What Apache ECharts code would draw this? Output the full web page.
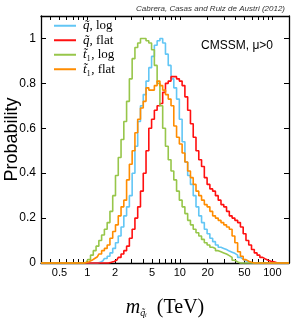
<!DOCTYPE html>
<html>
<head>
<meta charset="utf-8">
<script src="https://cdn.jsdelivr.net/npm/echarts@6/dist/echarts.min.js"></script>
<style>
html,body{margin:0;padding:0;background:#fff;}
#chart{width:291px;height:319px;}
</style>
</head>
<body>
<div id="chart"></div>
<script>
// bin centres, log10(m / TeV)
const log10Mass = [-0.10,-0.07,-0.04,-0.01,0.02,0.05,0.08,0.11,0.14,0.17,
  0.20,0.23,0.26,0.29,0.32,0.35,0.38,0.41,0.44,0.47,
  0.50,0.53,0.56,0.59,0.62,0.65,0.68,0.71,0.74,0.77,
  0.80,0.83,0.86,0.89,0.92,0.95,0.98,1.01,1.04,1.07,
  1.10,1.13,1.16,1.19,1.22,1.25,1.28,1.31,1.34,1.37,
  1.40,1.43,1.46,1.49,1.52,1.55,1.58,1.61,1.64,1.67,
  1.70,1.73,1.76,1.79,1.82,1.85,1.88,1.91,1.94,1.97,
  2.00,2.03,2.06,2.09];

// squark, log prior (blue)
const sqLog = [0,0,0,0,0,0,0,0,0.003,0.01,
  0.02,0.03,0.045,0.065,0.09,0.12,0.16,0.21,0.25,0.3,
  0.4,0.52,0.63,0.7,0.75,0.81,0.87,0.92,0.97,0.99,
  1.0,0.98,0.93,0.88,0.82,0.78,0.73,0.64,0.54,0.45,
  0.39,0.35,0.3,0.25,0.21,0.18,0.15,0.13,0.11,0.095,
  0.08,0.07,0.065,0.06,0.053,0.048,0.043,0.035,0.025,0.017,
  0.01,0.005,0.002,0,0,0,0,0,0,0,
  0,0,0,0];

// squark, flat prior (red)
const sqFlat = [0,0,0,0,0,0,0,0,0,0,
  0,0,0.003,0.007,0.013,0.025,0.04,0.055,0.075,0.11,
  0.15,0.2,0.25,0.32,0.4,0.5,0.6,0.64,0.68,0.7,
  0.71,0.76,0.8,0.81,0.83,0.83,0.82,0.81,0.79,0.74,
  0.68,0.62,0.56,0.5,0.46,0.43,0.38,0.35,0.33,0.32,
  0.3,0.28,0.26,0.25,0.23,0.21,0.2,0.19,0.18,0.16,
  0.13,0.1,0.08,0.06,0.045,0.035,0.025,0.018,0.012,0.008,
  0.005,0.002,0,0];

// stop, log prior (green)
const stLog = [0,0,0,0.003,0.015,0.035,0.055,0.075,0.1,0.125,
  0.15,0.18,0.23,0.3,0.39,0.47,0.55,0.63,0.72,0.82,
  0.91,0.96,0.98,1.0,1.0,0.99,0.98,0.95,0.88,0.8,
  0.7,0.6,0.52,0.46,0.41,0.37,0.32,0.28,0.25,0.22,
  0.19,0.17,0.15,0.135,0.12,0.105,0.09,0.08,0.07,0.065,
  0.055,0.05,0.045,0.04,0.033,0.025,0.012,0.005,0,0,
  0,0,0,0,0,0,0,0,0,0,
  0,0,0,0];

// stop, flat prior (orange)
const stFlat = [0,0,0,0.002,0.006,0.012,0.02,0.028,0.04,0.055,
  0.065,0.08,0.11,0.14,0.17,0.21,0.25,0.28,0.37,0.44,
  0.5,0.58,0.64,0.69,0.72,0.78,0.77,0.77,0.79,0.81,
  0.79,0.77,0.75,0.73,0.7,0.61,0.56,0.53,0.49,0.45,
  0.41,0.38,0.35,0.32,0.3,0.28,0.26,0.25,0.23,0.21,
  0.2,0.19,0.18,0.17,0.16,0.15,0.12,0.09,0.05,0.03,
  0.015,0.008,0.003,0,0,0,0,0,0,0,
  0,0,0,0];

const xTickLabels = [0.5, 1, 2, 5, 10, 20, 50, 100];
const xTickValues = [0.4,0.5,0.6,0.7,0.8,0.9,1,2,3,4,5,6,7,8,9,10,20,30,40,50,60,70,80,90,100];
const yTickValues = [0, 0.2, 0.4, 0.6, 0.8, 1];
const xMinLog = -0.5, xMaxLog = 2.18;

const seriesNames = ['sqLog', 'sqFlat', 'stLog', 'stFlat'];
const seriesValues = [sqLog, sqFlat, stLog, stFlat];
const seriesColors = ['#62c6f5', '#ff1010', '#97c64a', '#ff8c00'];
const legendLabels = {
  sqLog: '{i|q\u0303}{n|, log}',
  sqFlat: '{i|q\u0303}{n|, flat}',
  stLog: '{i|t\u0303}{n|\u2081, log}',
  stFlat: '{i|t\u0303}{n|\u2081, flat}'
};

const lg = v => Math.log10(v);
const fmt = v => { const m = Math.pow(10, v); return String(Math.round(m * 10) / 10); };

const chart = echarts.init(document.getElementById('chart'), null, {renderer: 'canvas'});

const series = seriesNames.map((n, k) => ({
  name: n,
  type: 'line',
  step: 'middle',
  symbol: 'none',
  clip: false,
  color: seriesColors[k],
  lineStyle: {width: 1.6, color: seriesColors[k]},
  data: [[xMinLog, 0]].concat(log10Mass.map((x, i) => [x, seriesValues[k][i]])).concat([[xMaxLog, 0]])
}));

const sans = 'Liberation Sans';
const serif = 'Liberation Serif';

chart.setOption({
  animation: false,
  backgroundColor: '#fff',
  title: [
    {text: 'Cabrera, Casas and Ruiz de Austri (2012)', right: 1, top: 0,
     textStyle: {fontSize: 8, fontStyle: 'italic', fontWeight: 'normal', fontFamily: sans, color: '#333'}},
    {text: 'CMSSM, \u03bc>0', right: 13, top: 35,
     textStyle: {fontSize: 12, fontWeight: 'normal', fontFamily: sans, color: '#000'}}
  ],
  legend: {
    orient: 'vertical', left: 49, top: 14,
    icon: 'rect', itemWidth: 22, itemHeight: 2, itemGap: 1,
    data: seriesNames,
    formatter: n => legendLabels[n],
    textStyle: {
      color: '#000', fontSize: 13, fontFamily: serif, lineHeight: 13.5, padding: [0, 0, 0, 2],
      rich: {
        i: {fontFamily: serif, fontStyle: 'italic', fontSize: 13, color: '#000', lineHeight: 13.5},
        n: {fontFamily: serif, fontSize: 13, color: '#000', lineHeight: 13.5}
      }
    }
  },
  grid: {left: 41, right: 2, top: 16, bottom: 56, containLabel: false, outerBoundsMode: 'none'},
  xAxis: [
    {
      type: 'value', min: xMinLog, max: xMaxLog, position: 'bottom',
      axisLine: {show: true, onZero: false, lineStyle: {color: '#000', width: 1.3}},
      axisTick: {show: true, inside: true, length: 4, customValues: xTickValues.map(lg), lineStyle: {color: '#000', width: 1}},
      axisLabel: {show: true, customValues: xTickLabels.map(lg), formatter: fmt, margin: 4,
        fontSize: 11, fontFamily: sans, color: '#000'},
      splitLine: {show: false},
      name: '{m|m}{s|q\u0303\u1d62}{t|  (TeV)}',
      nameLocation: 'middle', nameGap: 35, nameMoveOverlap: false,
      nameTextStyle: {
        rich: {
          m: {fontFamily: serif, fontStyle: 'italic', fontSize: 20, color: '#000'},
          s: {fontFamily: serif, fontStyle: 'italic', fontSize: 10, color: '#000', verticalAlign: 'bottom', padding: [8, 0, 0, 0]},
          t: {fontFamily: serif, fontSize: 20, color: '#000'}
        }
      }
    },
    {
      type: 'value', min: xMinLog, max: xMaxLog, position: 'top',
      axisLine: {show: true, onZero: false, lineStyle: {color: '#000', width: 1.3}},
      axisTick: {show: true, inside: true, length: 4, customValues: xTickValues.map(lg), lineStyle: {color: '#000', width: 1}},
      axisLabel: {show: false},
      splitLine: {show: false}
    }
  ],
  yAxis: [
    {
      type: 'value', min: 0, max: 1.1, position: 'left',
      axisLine: {show: true, onZero: false, lineStyle: {color: '#000', width: 1.3}},
      axisTick: {show: true, inside: true, length: 5, customValues: yTickValues, lineStyle: {color: '#000', width: 1}},
      axisLabel: {show: true, customValues: yTickValues, margin: 5, fontSize: 12, fontFamily: sans, color: '#000',
        formatter: v => String(Math.round(v * 10) / 10)},
      splitLine: {show: false},
      name: 'Probability', nameLocation: 'middle', nameGap: 20, nameMoveOverlap: false,
      nameTextStyle: {fontSize: 18, fontFamily: sans, color: '#000'}
    },
    {
      type: 'value', min: 0, max: 1.1, position: 'right',
      axisLine: {show: true, onZero: false, lineStyle: {color: '#000', width: 1.3}},
      axisTick: {show: true, inside: true, length: 5, customValues: yTickValues, lineStyle: {color: '#000', width: 1}},
      axisLabel: {show: false},
      splitLine: {show: false}
    }
  ],
  series: series
});
</script>
</body>
</html>
